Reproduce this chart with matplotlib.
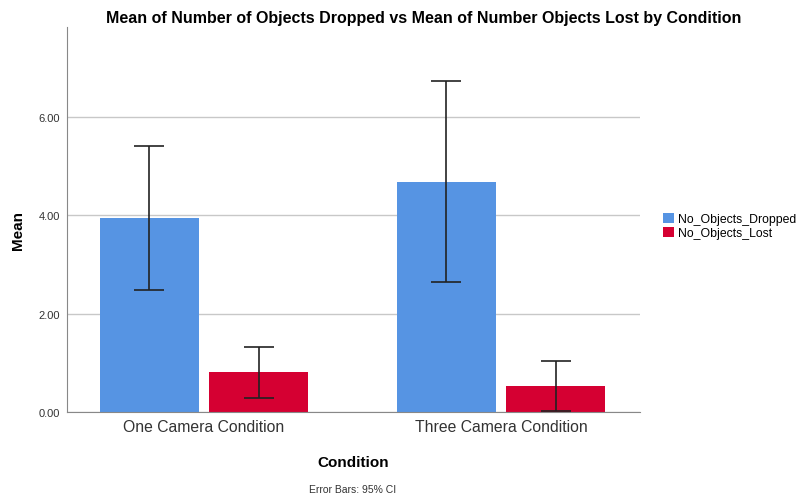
import numpy as np
import matplotlib.pyplot as plt
from matplotlib.patches import Patch

plt.rcParams['font.family'] = ['Liberation Sans', 'DejaVu Sans']

# values
conditions = ['One Camera Condition', 'Three Camera Condition']
series = ['No_Objects_Dropped', 'No_Objects_Lost']
dropped_mean = [3.94, 4.68]
dropped_lo = [2.48, 2.64]
dropped_hi = [5.40, 6.73]
lost_mean = [0.81, 0.53]
lost_lo = [0.28, 0.03]
lost_hi = [1.33, 1.04]
yticks = [0, 2, 4, 6]

colors = ['#5694E3', '#D50032']

fig = plt.figure(figsize=(8.04, 5.02), dpi=100)
ax = fig.add_axes([67 / 804, 1 - 413 / 502, (640 - 67) / 804, (413 - 28) / 502])

x = np.arange(len(conditions))
w = 0.333
for i, (m, lo, hi) in enumerate([(dropped_mean, dropped_lo, dropped_hi),
                                 (lost_mean, lost_lo, lost_hi)]):
    pos = x + (i - 0.5) * 0.368
    ax.bar(pos, m, width=w, color=colors[i], zorder=2)
    m = np.array(m)
    err = [m - np.array(lo), np.array(hi) - m]
    ax.errorbar(pos, m, yerr=err, fmt='none', ecolor='#222222',
                elinewidth=1.2, capsize=11, capthick=1.2, zorder=3)

ax.set_xlim(-0.461, 1.468)
ax.set_ylim(0, 7.83)
ax.set_yticks(yticks)
ax.set_yticklabels(['%.2f' % t for t in yticks], fontsize=8, color='#333333')
ax.set_xticks(x)
ax.set_xticklabels(conditions, fontsize=11.3, color='#333333')
ax.tick_params(axis='both', length=0, pad=5)
ax.grid(axis='y', color='#c8c8c8', linewidth=1, zorder=0)
for s in ['top', 'right']:
    ax.spines[s].set_visible(False)
for s in ['left', 'bottom']:
    ax.spines[s].set_color('#888888')

fig.text(424 / 804, 1 - 18 / 502, 'Mean of Number of Objects Dropped vs Mean of Number Objects Lost by Condition',
         ha='center', va='center', fontsize=11.5, fontweight='bold')
fig.text(18 / 804, 1 - 230 / 502, 'Mean', rotation=90, ha='center', va='center',
         fontsize=11, fontweight='bold')
fig.text(353 / 804, 1 - 463 / 502, 'Condition', ha='center', va='center',
         fontsize=11, fontweight='bold')
fig.text(353 / 804, 1 - 490 / 502, 'Error Bars: 95% CI', ha='center', va='center',
         fontsize=7.5, color='#333333')

handles = [Patch(facecolor=c) for c in colors]
fig.legend(handles, series, loc='center left', bbox_to_anchor=(652 / 804, 1 - 227 / 502),
           frameon=False, fontsize=8.8, handlelength=0.9, handleheight=0.9,
           handletextpad=0.3, labelspacing=0.15)

fig.savefig('out.png', dpi=100)
